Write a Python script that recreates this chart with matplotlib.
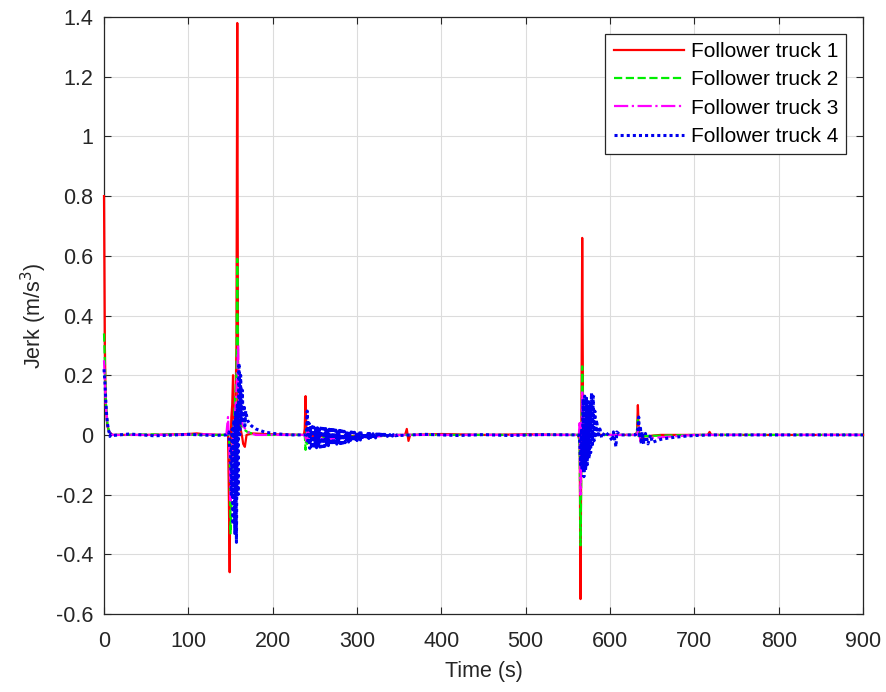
import matplotlib
matplotlib.use("Agg")
import matplotlib.pyplot as plt

plt.rcParams['font.family'] = ['Liberation Sans', 'DejaVu Sans']

labels = ["Follower truck 1", "Follower truck 2", "Follower truck 3", "Follower truck 4"]

# Follower truck 1 (red)
t1 = [0, 1, 2, 4, 6, 10, 50, 100, 110, 120, 140, 146, 147, 148, 149, 150, 151, 152, 153, 154, 155, 156,
      157, 158, 159, 160, 162, 164, 165, 167, 169, 175, 200, 237, 238, 239, 240, 241, 243, 250, 300,
      357, 359, 361, 363, 400, 450, 500, 550, 562, 564, 565, 566, 567, 568, 569, 570, 572, 575, 580,
      600, 630, 632, 633, 634, 636, 640, 660, 700, 716, 718, 720, 750, 800, 850, 900]
v1 = [0.80, 0.30, 0.10, 0.03, 0.01, 0.0, 0.0, 0.003, 0.005, 0.002, 0.0, 0.0, 0.02, -0.20, -0.46, -0.05,
      0.06, 0.10, 0.20, -0.05, 0.05, 0.10, 0.30, 1.38, 0.10, 0.05, 0.02, -0.01, -0.03, -0.04, 0.0, 0.005,
      0.002, 0.0, 0.02, 0.13, 0.0, 0.02, 0.0, -0.005, -0.003, 0.0, 0.02, -0.02, 0.0, 0.003, 0.0, 0.002,
      0.0, 0.0, -0.02, -0.55, 0.02, 0.66, 0.05, 0.0, 0.01, 0.0, 0.005, 0.0, 0.0, 0.0, 0.01, 0.10, 0.02,
      -0.02, -0.005, 0.0, 0.0, 0.0, 0.01, 0.0, 0.0, 0.0, 0.0, 0.0]

# Follower truck 2 (green)
t2 = [0, 1, 2, 4, 6, 10, 60, 120, 145, 148, 149, 150, 151, 152, 153, 155, 157, 158, 159, 160, 162,
      165, 170, 180, 200, 238, 239, 240, 241, 243, 250, 300, 350, 400, 500, 560, 563, 564, 565, 566,
      567, 568, 569, 570, 575, 600, 632, 633, 634, 636, 650, 700, 800, 900]
v2 = [0.34, 0.25, 0.12, 0.04, 0.01, 0.0, 0.002, 0.0, 0.0, 0.0, -0.05, -0.33, -0.25, -0.10, 0.0, 0.10,
      0.20, 0.59, 0.20, 0.08, 0.04, 0.02, 0.01, 0.0, 0.0, 0.0, -0.05, 0.02, -0.03, -0.02, -0.01, -0.005,
      0.0, 0.0, 0.0, 0.0, 0.0, -0.05, -0.37, -0.10, 0.23, 0.05, 0.0, 0.01, 0.0, 0.0, 0.0, 0.05, -0.01,
      -0.005, -0.003, 0.0, 0.0, 0.0]

# Follower truck 3 (magenta)
t3 = [0, 1, 2, 4, 6, 10, 60, 120, 145, 147, 148, 149, 150, 151, 152, 154, 156, 158, 159, 160, 162,
      165, 170, 180, 200, 238, 240, 241, 243, 250, 300, 350, 400, 500, 560, 563, 564, 565, 566, 567,
      568, 569, 570, 575, 600, 632, 634, 636, 650, 700, 800, 900]
v3 = [0.25, 0.18, 0.10, 0.04, 0.01, 0.0, 0.0, 0.002, 0.0, 0.06, 0.0, -0.10, -0.22, -0.15, -0.05, 0.02,
      0.10, 0.20, 0.30, 0.12, 0.05, 0.03, 0.01, 0.0, 0.0, 0.0, -0.02, 0.02, -0.02, -0.015, -0.01, 0.0,
      0.0, 0.0, 0.0, 0.0, 0.04, -0.20, -0.05, 0.15, 0.04, 0.0, 0.01, 0.0, 0.0, 0.0, 0.03, -0.02, -0.01,
      0.0, 0.0, 0.0]

# Follower truck 4 (blue): start and first transient
t4_a = [0, 1, 2, 3, 4, 5, 6, 7, 8, 10, 30, 60, 100, 130, 145, 148, 149, 150, 151, 152, 153, 154, 155,
        156, 157, 158, 159, 160, 161, 162, 163, 164, 165, 166, 167, 168, 170, 172, 175, 180, 185, 190,
        200, 220, 238, 240]
v4_a = [0.22, 0.18, 0.12, 0.07, 0.04, 0.02, 0.01, -0.005, 0.002, -0.002, 0.003, -0.003, 0.002, -0.002,
        0.0, 0.01, -0.05, -0.05, -0.20, 0.02, -0.30, 0.05, -0.33, 0.08, -0.36, 0.10, -0.20, 0.24, 0.0,
        0.20, 0.05, 0.15, 0.04, 0.10, 0.03, 0.08, 0.05, 0.04, 0.03, 0.02, 0.015, 0.01, 0.005, 0.0, 0.0,
        0.0]
# Follower truck 4: oscillating band, 241 s to 350 s (1 s samples)
t4_b = list(range(241, 351))
v4_b = [0.08, -0.03, 0.04, -0.045, 0.03, -0.045, 0.028, -0.044, 0.026, -0.043,
        0.025, -0.043, 0.024, -0.042, 0.024, -0.041, 0.023, -0.040, 0.022, -0.039,
        0.021, -0.038, 0.021, -0.037, 0.020, -0.036, 0.019, -0.035, 0.018, -0.034,
        0.018, -0.033, 0.017, -0.032, 0.016, -0.031, 0.015, -0.030, 0.015, -0.029,
        0.014, -0.028, 0.013, -0.027, 0.012, -0.026, 0.012, -0.025, 0.011, -0.024,
        0.010, -0.023, 0.010, -0.022, 0.009, -0.021, 0.009, -0.020, 0.008, -0.019,
        0.008, -0.018, 0.007, -0.017, 0.007, -0.016, 0.006, -0.015, 0.006, -0.014,
        0.005, -0.013, 0.005, -0.012, 0.005, -0.012, 0.004, -0.011, 0.004, -0.010,
        0.004, -0.010, 0.003, -0.009, 0.003, -0.008, 0.003, -0.008, 0.002, -0.007,
        0.002, -0.006, 0.002, -0.006, 0.002, -0.005, 0.001, -0.005, 0.001, -0.004,
        0.001, -0.004, 0.001, -0.003, 0.0, -0.003, 0.0, -0.002, 0.0, -0.002]
# Follower truck 4: rest
t4_c = [380, 420, 450, 480, 520, 560, 563, 564, 565, 566, 567, 568, 569, 570, 571, 572, 573, 574, 575,
        576, 577, 578, 579, 580, 581, 582, 583, 584, 586, 588, 590, 594, 598, 603, 604, 607, 608, 612,
        630, 633, 634, 635, 636, 637, 638, 640, 642, 645, 648, 650, 655, 660, 670, 680, 690, 700, 720,
        800, 900]
v4_c = [0.002, -0.002, 0.001, -0.002, 0.001, 0.0, 0.0, -0.02, -0.10, 0.02, -0.12, 0.12, -0.14, 0.13,
        -0.12, 0.13, -0.10, 0.12, -0.08, 0.10, -0.06, 0.14, -0.04, 0.13, -0.02, 0.08, -0.01, 0.05, 0.0,
        0.02, -0.01, 0.01, 0.0, -0.02, 0.01, -0.04, 0.01, 0.0, 0.0, 0.02, 0.06, -0.01, 0.03, -0.03, 0.01,
        -0.03, 0.005, -0.03, 0.0, -0.025, -0.02, -0.015, -0.01, -0.007, -0.004, -0.002, 0.0, 0.0, 0.0]

t4 = t4_a + t4_b + t4_c
v4 = v4_a + v4_b + v4_c

series = [(t1, v1), (t2, v2), (t3, v3), (t4, v4)]
colors = ["#FF0000", "#00EE00", "#FF00FF", "#0000EE"]
styles = ["-", "--", "-.", (0, (1, 1))]
widths = [1.6, 1.6, 1.6, 2.2]

fig = plt.figure(figsize=(8.86, 6.92), dpi=100)
ax = fig.add_axes([0.1174, 0.1127, 0.8567, 0.8627])

for (t, v), c, ls, lw, lab in zip(series, colors, styles, widths, labels):
    ax.plot(t, v, color=c, linestyle=ls, linewidth=lw, label=lab, zorder=3, clip_on=False)

ax.set_xlim(0, 900)
ax.set_ylim(-0.6, 1.4)
ax.set_xticks([0, 100, 200, 300, 400, 500, 600, 700, 800, 900])
ax.set_yticks([-0.6, -0.4, -0.2, 0, 0.2, 0.4, 0.6, 0.8, 1, 1.2, 1.4])
ax.set_yticklabels(["-0.6", "-0.4", "-0.2", "0", "0.2", "0.4", "0.6", "0.8", "1", "1.2", "1.4"])
ax.grid(True, color="#DCDCDC", linewidth=0.8)
ax.set_axisbelow(True)
ax.tick_params(direction="in", top=True, right=True, labelsize=15.5, colors="#262626", length=5)
ax.tick_params(axis="x", pad=12)
ax.tick_params(axis="y", pad=8)
for s in ax.spines.values():
    s.set_color("#262626")
    s.set_linewidth(0.9)

ax.set_xlabel("Time (s)", fontsize=15.5, color="#262626", va="center")
ax.set_ylabel("Jerk (m/s$^3$)", fontsize=15.5, color="#262626", va="center")
ax.xaxis.set_label_coords(0.5, -0.097)
ax.yaxis.set_label_coords(-0.092, 0.5)

leg = ax.legend(loc="upper right", fontsize=15, handlelength=3.4, handletextpad=0.3,
                borderpad=0.4, labelspacing=0.45, fancybox=False, framealpha=1,
                edgecolor="#262626", borderaxespad=0.8)
leg.get_frame().set_linewidth(0.9)
leg.set_zorder(5)

fig.savefig("out.png", dpi=100)
